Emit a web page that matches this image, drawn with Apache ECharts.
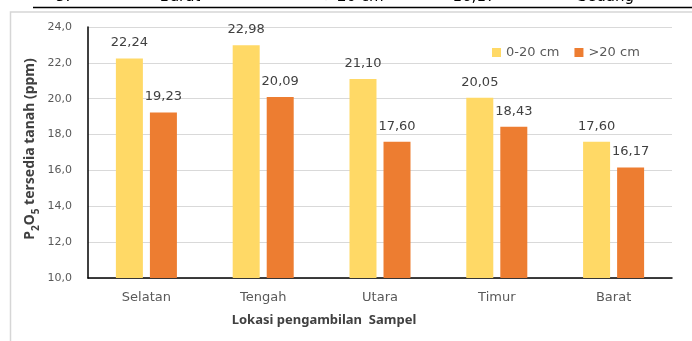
<!DOCTYPE html>
<html>
<head>
<meta charset="utf-8">
<script src="https://cdn.jsdelivr.net/npm/echarts@6/dist/echarts.min.js"></script>
<style>
  html, body { margin: 0; padding: 0; background: #fff; }
  #chart { width: 692px; height: 341px; }
</style>
</head>
<body>
<div id="chart"></div>
<script>
// data
const lokasi = ['Selatan', 'Tengah', 'Utara', 'Timur', 'Barat'];
const dangkal = [22.24, 22.98, 21.10, 20.05, 17.60];   // 0-20 cm
const dalam = [19.23, 20.09, 17.60, 18.43, 16.17];     // >20 cm
const seriesNames = ['0-20 cm', '>20 cm'];
// cut-off table row above the chart
const topRow = ['5.', 'Barat', '>20 cm', '16,17', 'Sedang'];

const koma = (v, d) => Number(v).toFixed(d).replace('.', ',');

const chart = echarts.init(document.getElementById('chart'), null, { renderer: 'canvas' });

const labelStyle = {
    show: true,
    position: 'top',
    distance: 9,
    color: '#404040',
    fontFamily: 'DejaVu Sans',
    fontSize: 13,
    formatter: p => koma(p.value, 2)
};

const option = {
    animation: false,
    backgroundColor: '#fff',
    grid: { left: 88, right: 20, top: 27, bottom: 63 },
    legend: {
        data: seriesNames,
        left: 487,
        top: 41,
        icon: 'rect',
        itemWidth: 9,
        itemHeight: 9,
        itemGap: 15,
        textStyle: { color: '#595959', fontFamily: 'DejaVu Sans', fontSize: 13 }
    },
    xAxis: {
        type: 'category',
        data: lokasi,
        axisLine: { lineStyle: { color: '#000', width: 1.5 } },
        axisTick: { show: false },
        axisLabel: { color: '#595959', fontFamily: 'DejaVu Sans', fontSize: 13, margin: 13 }
    },
    yAxis: {
        type: 'value',
        min: 10,
        max: 24,
        interval: 2,
        axisLine: { show: true, lineStyle: { color: '#000', width: 1.5 } },
        axisTick: { show: false },
        splitLine: { lineStyle: { color: '#d9d9d9', width: 1 } },
        axisLabel: {
            color: '#595959', fontFamily: 'DejaVu Sans', fontSize: 11, margin: 16,
            formatter: v => koma(v, 1)
        }
    },
    series: [
        {
            name: seriesNames[0],
            type: 'bar',
            data: dangkal,
            barWidth: 27,
            barGap: '26%',
            itemStyle: { color: '#FFD966' },
            label: labelStyle
        },
        {
            name: seriesNames[1],
            type: 'bar',
            data: dalam,
            barWidth: 27,
            itemStyle: { color: '#ED7D31' },
            label: labelStyle
        }
    ],
    graphic: [
        // chart frame
        {
            type: 'rect', silent: true, z: -1,
            shape: { x: 10.5, y: 12, width: 720, height: 360 },
            style: { fill: 'none', stroke: '#d6d6d6', lineWidth: 1.5 }
        },
        // table border above
        {
            type: 'line', silent: true,
            shape: { x1: 33, y1: 7.5, x2: 692, y2: 7.5 },
            style: { stroke: '#000', lineWidth: 1.5 }
        },
        ...topRow.map((t, i) => ({
            type: 'text', silent: true,
            x: [63, 180, 354, 474, 634][i],
            y: 5,
            style: {
                text: t,
                fill: '#000',
                font: '15px "DejaVu Sans"',
                align: i === 4 ? 'right' : 'center',
                verticalAlign: 'bottom'
            }
        })),
        // y axis title with subscripts
        {
            type: 'text', silent: true,
            x: 30, y: 149,
            rotation: Math.PI / 2,
            style: {
                text: '{b|P}{s|2}{b|O}{s|5}{b| tersedia tanah (ppm)}',
                align: 'center',
                verticalAlign: 'middle',
                rich: {
                    b: { fontFamily: 'Noto Sans', fontWeight: 'bold', fontSize: 14, fill: '#404040', lineHeight: 18, verticalAlign: 'middle' },
                    s: { fontFamily: 'Noto Sans', fontWeight: 'bold', fontSize: 10, fill: '#404040', lineHeight: 18, verticalAlign: 'bottom', padding: [0, 0, -2, 0] }
                }
            }
        },
        // x axis title
        {
            type: 'text', silent: true,
            x: 324, y: 320,
            style: {
                text: 'Lokasi pengambilan  Sampel',
                fill: '#404040',
                font: 'bold 13px "Noto Sans"',
                align: 'center',
                verticalAlign: 'middle'
            }
        }
    ]
};

chart.setOption(option);
</script>
</body>
</html>
